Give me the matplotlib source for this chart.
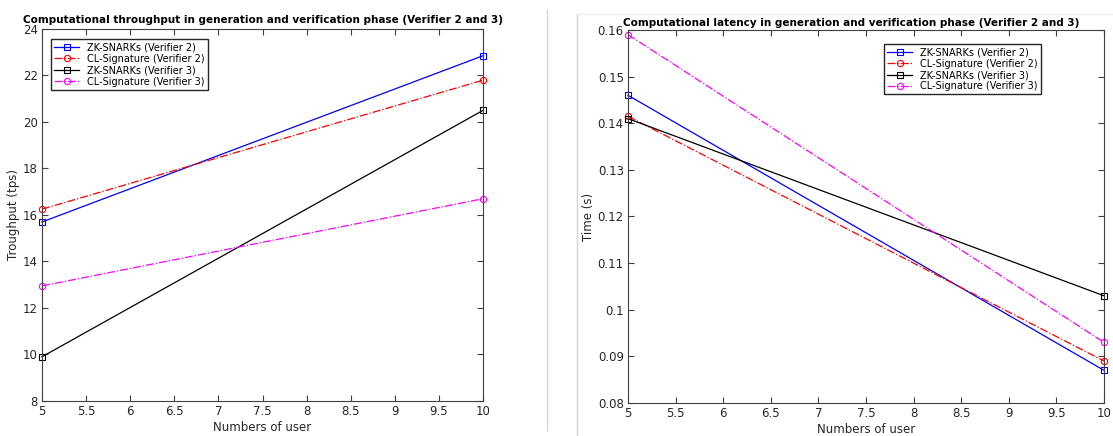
import matplotlib
matplotlib.use("Agg")
import matplotlib.pyplot as plt
from matplotlib.lines import Line2D
from matplotlib.ticker import FormatStrFormatter, MultipleLocator

users = [5, 10]

# throughput (tps)
thr_zk_v2 = [15.7, 22.85]
thr_cl_v2 = [16.25, 21.8]
thr_zk_v3 = [9.9, 20.5]
thr_cl_v3 = [12.95, 16.7]

# latency (s)
lat_zk_v2 = [0.146, 0.087]
lat_cl_v2 = [0.1415, 0.089]
lat_zk_v3 = [0.141, 0.103]
lat_cl_v3 = [0.159, 0.093]

labels = ["ZK-SNARKs (Verifier 2)", "CL-Signature (Verifier 2)",
          "ZK-SNARKs (Verifier 3)", "CL-Signature (Verifier 3)"]
styles = [("#0000ff", "-", "s"), ("#ff0000", "-.", "o"),
          ("#000000", "-", "s"), ("#ff00ff", "-.", "o")]

plt.rcParams["font.family"] = "DejaVu Sans"
axcol = "#404040"

fig = plt.figure(figsize=(11.13, 4.36), dpi=100)
ax1 = fig.add_axes([0.0377, 0.0803, 0.3963, 0.8532])
ax2 = fig.add_axes([0.5642, 0.0757, 0.4277, 0.8555])


def style_axes(ax):
    for s in ax.spines.values():
        s.set_color(axcol)
        s.set_linewidth(0.8)
    ax.tick_params(direction="in", top=True, right=True, length=4,
                   colors=axcol, labelsize=8.5, labelcolor="#262626", pad=3)
    ax.set_xlim(5, 10)
    ax.xaxis.set_major_locator(MultipleLocator(0.5))
    ax.xaxis.set_major_formatter(FormatStrFormatter("%g"))
    ax.set_xlabel("Numbers of user", fontsize=8.5, color="#262626", labelpad=2)


for ax, series in [(ax1, [thr_zk_v2, thr_cl_v2, thr_zk_v3, thr_cl_v3]),
                   (ax2, [lat_zk_v2, lat_cl_v2, lat_zk_v3, lat_cl_v3])]:
    for vals, lab, (c, ls, m) in zip(series, labels, styles):
        ax.plot(users, vals, color=c, linestyle=ls, marker=m, markersize=4.5,
                markerfacecolor="none", markeredgewidth=0.8, linewidth=0.9,
                label=lab, clip_on=False)
    style_axes(ax)

ax1.set_ylim(8, 24)
ax1.yaxis.set_major_locator(MultipleLocator(2))
ax1.set_ylabel("Troughput (tps)", fontsize=8.5, color="#262626", labelpad=2)
ax1.set_title("Computational throughput in generation and verification phase (Verifier 2 and 3)",
              fontsize=7.5, fontweight="bold", pad=4)
ax1.legend(loc="upper left", fontsize=7, frameon=True, fancybox=False,
           edgecolor="#262626", framealpha=1, borderpad=0.3, labelspacing=0.15,
           handlelength=2.6, bbox_to_anchor=(0.01, 0.985))

ax2.set_ylim(0.08, 0.16)
ax2.yaxis.set_major_locator(MultipleLocator(0.01))
ax2.yaxis.set_major_formatter(FormatStrFormatter("%g"))
ax2.set_ylabel("Time (s)", fontsize=8.5, color="#262626", labelpad=2)
ax2.set_title("Computational latency in generation and verification phase (Verifier 2 and 3)",
              fontsize=7.5, fontweight="bold", pad=3, x=0.468)
ax2.legend(loc="upper right", fontsize=7, frameon=True, fancybox=False,
           edgecolor="#262626", framealpha=1, borderpad=0.3, labelspacing=0.15,
           handlelength=2.6, bbox_to_anchor=(0.877, 0.975))

# screenshot borders
W, H = 1113, 436
fig.add_artist(Line2D([547 / W, 547 / W], [1 - 10 / H, 1 - 430 / H],
                      color="#d4d4d4", linewidth=1))
fig.add_artist(Line2D([577 / W, 577 / W], [1 - 14 / H, 0], color="#d4d4d4", linewidth=1))
fig.add_artist(Line2D([577 / W, 1], [1 - 14 / H, 1 - 14 / H], color="#ececec", linewidth=1))

fig.savefig("out.png", dpi=100)
